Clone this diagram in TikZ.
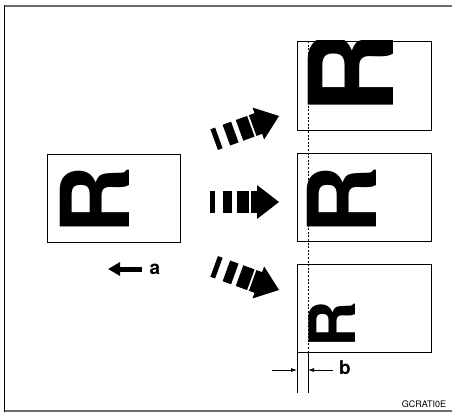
\documentclass[tikz,border=0pt]{standalone}
\usepackage{fontspec}
\setmainfont{TeX Gyre Heros}
\usetikzlibrary{arrows.meta,positioning}
\definecolor{colframe}{HTML}{6B6B6B}
% block arrow made of growing dashes, tip at (#1,#2), turned by #3
\newcommand{\dashblock}[3]{%
  \begin{scope}[shift={(#1,#2)},rotate=#3]
    \fill (0,0) -- (-22,17) -- (-22,-17) -- cycle;
    \fill (-28,-11) rectangle (-21,11);
    \fill (-42,-11) rectangle (-30,11);
    \fill (-56,-11) rectangle (-47,11);
    \fill (-69,-11) rectangle (-64,11);
  \end{scope}}
\newcommand{\Rsize}[1]{\fontsize{#1pt}{#1pt}\selectfont\bfseries}

\begin{document}
\begin{tikzpicture}[
  x=1pt,y=-1pt,
  sheet/.style={draw,line width=0.9pt},
  rletter/.style={rotate=90,inner sep=0pt,anchor=base west},
  lbl/.style={inner sep=0pt,font=\fontsize{19pt}{19pt}\selectfont\bfseries},
  fatarrow/.style={line width=5pt,-{Triangle[length=12pt,width=13pt]}},
  dimarrow/.style={line width=0.7pt,-{Latex[length=6pt,width=4pt]}},
  guide/.style={line width=0.7pt},
]
  \useasboundingbox (0,0) rectangle (452,412);
  % ---- frame ----
  \draw[colframe,line width=2pt] (4,6) -- (452,6);
  \draw[colframe,line width=1.5pt] (4,411) -- (452,411);
  \draw[line width=1.5pt] (4.5,5) -- (4.5,412);

  % ---- original ----
  \draw[sheet] (47,154) rectangle (180,242);
  \node[rletter,font=\Rsize{95}] (r0) at (129,235) {R};
  \node[lbl] (a) at (155,269) {a};
  \coordinate (atail) at (142,269);
  \coordinate (ahead) at (108,269);
  \draw[fatarrow] (atail) -- (ahead);

  % ---- arrows ----
  \dashblock{279}{116}{20}
  \dashblock{279}{202}{0}
  \dashblock{279}{290}{-20}

  % ---- copies ----
  \begin{scope}
    \clip (297,41) rectangle (431,130);
    \node[rletter,font=\Rsize{117}] (r1) at (393,114.5) {R};
  \end{scope}
  \draw[sheet] (297,41) rectangle (431,130);
  \draw[sheet] (297,153) rectangle (431,241);
  \node[rletter,font=\Rsize{95}] (r2) at (376,235) {R};
  \draw[sheet] (297,264) rectangle (431,352);
  \node[rletter,font=\Rsize{64}] (r3) at (355,347.7) {R};

  % ---- margin b ----
  \coordinate (edge) at (297,352);
  \coordinate (edgeend) at (297,393);
  \coordinate (mtop) at (308,41);
  \coordinate (mbot) at (308,352);
  \coordinate (mend) at (308,393);
  \draw[guide,dash pattern=on 2pt off 1.6pt] (mtop) -- (mbot);
  \draw[guide] (mbot) -- (mend);
  \draw[guide] (edge) -- (edgeend);
  \node[lbl] (b) at (345,368) {b};
  \coordinate (bl) at (272,370);
  \coordinate (bli) at (297,370);
  \coordinate (bri) at (308,370);
  \coordinate (br) at (333,370);
  \draw[dimarrow] (bl) -- (bli);
  \draw[dimarrow] (br) -- (bri);

  \node[inner sep=0pt,font=\fontsize{9pt}{9pt}\selectfont] (code) at (424,404) {GCRATI0E};
\end{tikzpicture}
\end{document}
